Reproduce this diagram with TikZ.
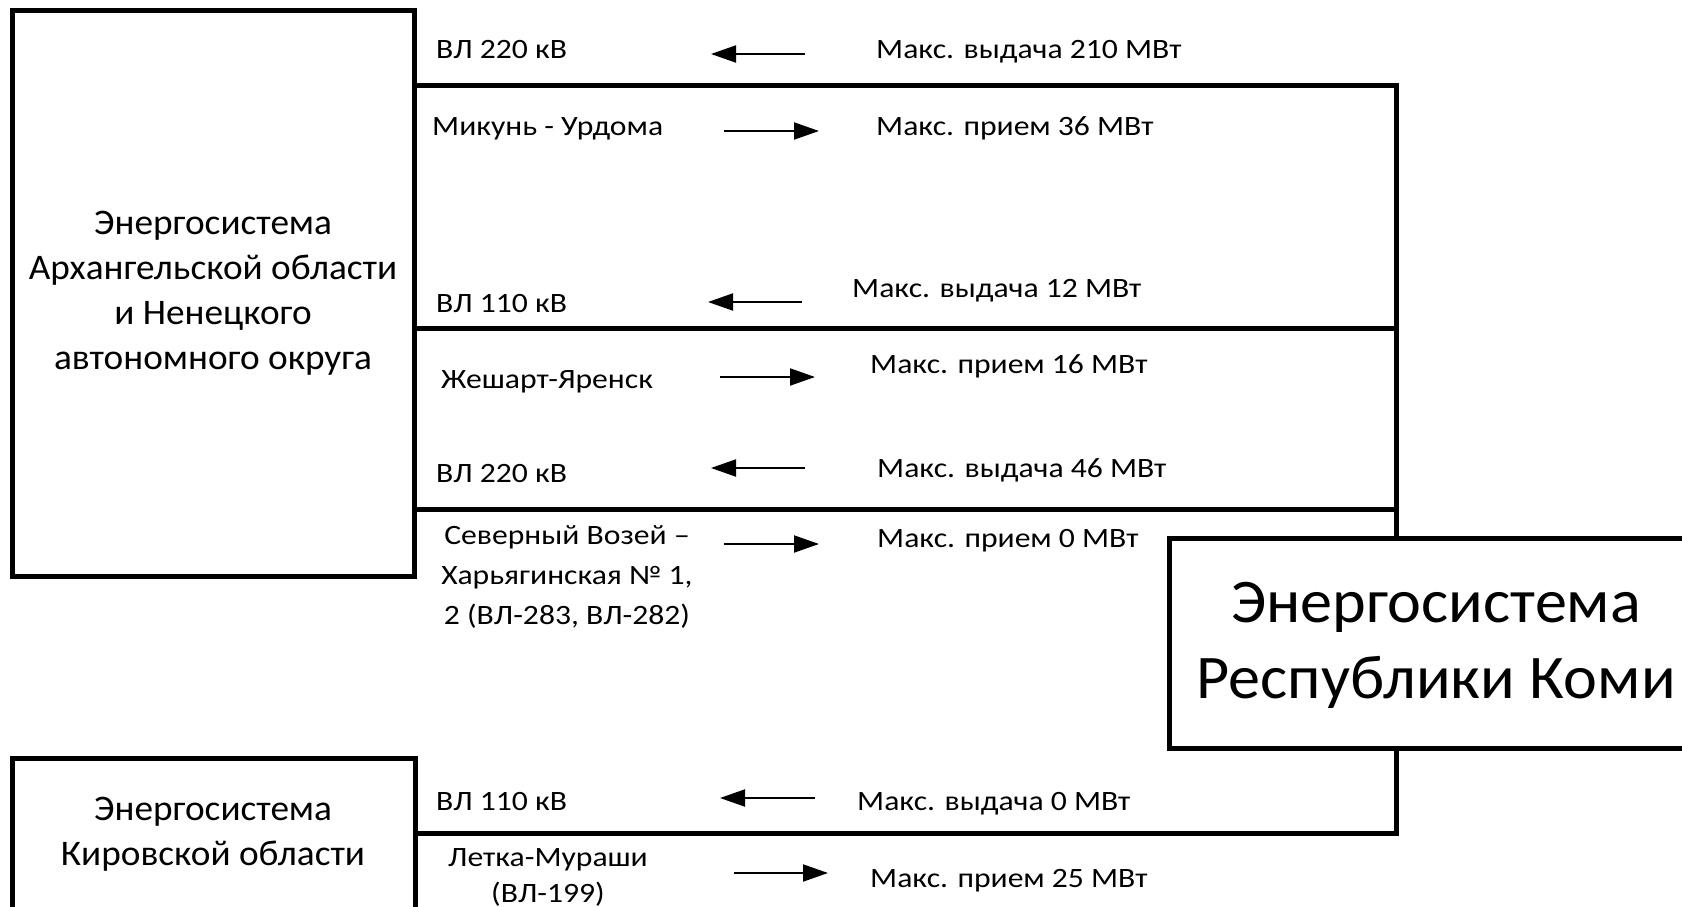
\documentclass[tikz,border=0pt]{standalone}
\usepackage{fontspec}
\setmainfont[FakeStretch=1.035]{Carlito}
\newfontfamily\lblfont[FakeStretch=1.13]{Carlito}
\usetikzlibrary{arrows.meta}
\begin{document}
\begin{tikzpicture}[x=1pt,y=-1pt,
  bus/.style={line width=5pt, line join=miter},
  sysbox/.style={draw, line width=5pt, rectangle, inner sep=0pt},
  lbl/.style={anchor=base west, font=\lblfont\fontsize{28}{33}\selectfont, inner sep=0pt},
  clbl/.style={align=center, inner sep=0pt},
  flow/.style={line width=2pt, -{Triangle[length=25pt,width=17pt]}},
  bigtxt/.style={align=center, font=\fontsize{36}{45}\selectfont},
  komitxt/.style={align=center, font=\fontsize{62}{76}\selectfont, inner sep=0pt}
]
\useasboundingbox (0,0) rectangle (1682,907);
\begin{scope}
\clip (0,0) rectangle (1682,907);

% system boxes
\node[sysbox, bigtxt, minimum width=402pt, minimum height=565pt] (arh) at (213,293.5)
  {Энергосистема\\Архангельской области\\и Ненецкого\\автономного округа};
\node[sysbox, minimum width=403pt, minimum height=222pt] (kir) at (213.5,869) {};
\node[bigtxt, inner sep=0pt] (kirtxt) at (213,834.5) {Энергосистема\\Кировской области};
\node[sysbox, minimum width=631pt, minimum height=210pt] (komi) at (1484.5,643) {};
\node[komitxt] (komilbl) at (1436,645) {Энергосистема\\Республики Коми};

% bus lines
\coordinate (c1) at (1396,86);
\coordinate (c2) at (1396,328);
\coordinate (c3) at (1396,509);
\coordinate (c4) at (1396,833);
\draw[bus] (arh.east |- c1) -- (c1) -- (komi.north -| c1);
\draw[bus] (arh.east |- c2) -- (c2);
\draw[bus] (arh.east |- c3) -- (c3);
\draw[bus] (komi.south -| c4) -- (c4) -- (kir.east |- c4);

% flow arrows
\coordinate (a1s) at (805,54);  \coordinate (a1e) at (711,54);
\coordinate (a2s) at (724,131); \coordinate (a2e) at (819,131);
\coordinate (a3s) at (802,302); \coordinate (a3e) at (708,302);
\coordinate (a4s) at (720,377); \coordinate (a4e) at (815,377);
\coordinate (a5s) at (805,468); \coordinate (a5e) at (711,468);
\coordinate (a6s) at (724,544); \coordinate (a6e) at (819,544);
\coordinate (a7s) at (815,798); \coordinate (a7e) at (720,798);
\coordinate (a8s) at (734,873); \coordinate (a8e) at (828,873);
\foreach \i in {1,...,8} {\draw[flow] (a\i s) -- (a\i e);}

% labels
\node[lbl] (l1) at (436,59) {ВЛ 220 кВ};
\node[lbl] (r1) at (876,59) {Макс. выдача 210 МВт};
\node[lbl] (l2) at (432,135) {Микунь - Урдома};
\node[lbl] (r2) at (876,135) {Макс. прием 36 МВт};
\node[lbl] (l3) at (436,312) {ВЛ 110 кВ};
\node[lbl] (r3) at (852,297) {Макс. выдача 12 МВт};
\node[lbl] (l4) at (441,388) {Жешарт-Яренск};
\node[lbl] (r4) at (870,373) {Макс. прием 16 МВт};
\node[lbl] (l5) at (436,482) {ВЛ 220 кВ};
\node[lbl] (r5) at (877,477) {Макс. выдача 46 МВт};
\node[clbl, font=\lblfont\fontsize{28}{40}\selectfont] (l6) at (567,577)
  {Северный Возей –\\Харьягинская № 1,\\2 (ВЛ-283, ВЛ-282)};
\node[lbl] (r6) at (877,547) {Макс. прием 0 МВт};
\node[lbl] (l7) at (436,810) {ВЛ 110 кВ};
\node[lbl] (r7) at (857,810) {Макс. выдача 0 МВт};
\node[clbl, font=\lblfont\fontsize{28}{36}\selectfont] (l8) at (548,877)
  {Летка-Мураши\\(ВЛ-199)};
\node[lbl] (r8) at (870,887) {Макс. прием 25 МВт};
\end{scope}
\end{tikzpicture}
\end{document}
